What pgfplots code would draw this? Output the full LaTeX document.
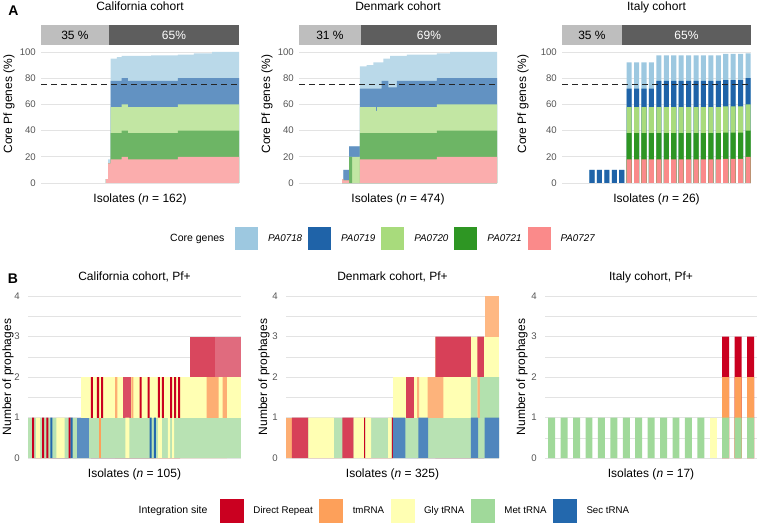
\documentclass[border=0pt]{standalone}
\usepackage{pgfplots}
\pgfplotsset{compat=1.18}
\usepackage{pgfplotstable}
\usepackage{fontspec}
\setmainfont{Liberation Sans}
\definecolor{cLB}{HTML}{9DC8E0}
\definecolor{cDB}{HTML}{1F63A8}
\definecolor{cLG}{HTML}{A8DB7C}
\definecolor{cDG}{HTML}{2E9623}
\definecolor{cPK}{HTML}{FA8A8A}
\definecolor{cDR}{HTML}{CA0020}
\definecolor{cTM}{HTML}{FDA05A}
\definecolor{cGL}{HTML}{FFFFB3}
\definecolor{cMT}{HTML}{A0D99A}
\definecolor{cSC}{HTML}{2368AD}
\definecolor{gridc}{HTML}{E3E3E3}
\definecolor{tickc}{HTML}{555555}
\definecolor{hdrL}{HTML}{BEBEBE}
\definecolor{hdrD}{HTML}{5E5E5E}

% cumulative tops: c27 (PA0727), c21, c20, c19, c18 ; isolates before the first row have no core genes
\pgfplotstableread{
x c27 c21 c20 c19 c18
53.5 3 3 3 3 3
55.5 15 15 15 15 18
57.5 18 38 58 78 95
62.5 18 38 58 78 96
66.5 20 40 60 80 97
71.5 18 38 58 78 97
90.5 18 38 58 78 97.5
112.5 20 40 60 80 98
125.5 20 40 60 80 99
140.5 20 40 60 80 100
162.5 20 40 60 80 100
}\calA

\pgfplotstableread{
x c27 c21 c20 c19 c18
103.5 3 3 3 3 3
106.5 2 2 2 10 10
120.5 0 20 20 28 28
127.5 0 0 20 28 28
146.5 18 38 58 72 89
162.5 18 38 58 72 90
178.5 18 38 58 72 92
184.5 18 38 55 72 92
187.5 18 38 58 72 92
198.5 18 38 58 78 92
202.5 18 38 58 78 95
214.5 18 38 58 73 95
218.5 18 38 58 73 97
234.5 18 38 58 78 97
258.5 18 38 58 78 98
330.5 20 40 60 80 99
362.5 20 40 60 80 100
474.5 20 40 60 80 100
}\denA

\pgfplotstableread{
x c27 c21 c20 c19 c18
1 nan nan nan nan nan
2 nan nan nan nan nan
3 nan nan nan nan nan
4 nan nan nan nan nan
5 nan nan nan 10 10
6 nan nan nan 10 10
7 nan nan nan 10 10
8 nan nan nan 10 10
9 nan nan nan 10 10
10 18 38 58 72 92
11 18 38 58 72 92
12 18 38 58 72 92
13 18 38 58 72 92
14 18 38 58 78 97.5
15 18 38 58 78 97.5
16 18 38 58 78 97.5
17 18 38 58 78 97.5
18 18 38 58 78 97.5
19 18 38 58 78 97.5
20 18 38 58 78 97.5
21 18 38 58 78 97.5
22 18 38 58 78 97.5
23 18.5 38.5 58.5 78.5 98.5
24 18.5 38.5 58.5 78.5 98.5
25 18.5 38.5 58.5 78.5 98.5
26 20 40 60 80 99
}\itA

\pgfplotsset{
  basest/.style={scale only axis, anchor=south west, clip=false,
    axis line style={draw=none}, major tick length=0pt, minor tick length=0pt,
    xtick=\empty, ymajorgrids, major grid style={gridc, line width=0.9pt},
    tick label style={font=\fontsize{9.6}{11}\selectfont, text=tickc},
    unbounded coords=discard,
    /pgf/number format/assume math mode=true},
  pA/.style={basest, height=131pt, ymin=0, ymax=100, ytick={0,20,40,60,80,100},
    yticklabel style={inner sep=0pt, xshift=-5pt}},
  pB/.style={basest, height=162pt, ymin=0, ymax=4, ytick={0,1,2,3,4},
    minor ytick={0.5,1.5,2.5,3.5}, yminorgrids, minor grid style={gridc, line width=0.5pt},
    yticklabel style={inner sep=0pt, xshift=-8pt}},
  ar/.style={draw=none, const plot, forget plot},
  iv/.style={ybar interval, draw=none, forget plot},
  dl/.style={draw=black!85, line width=1.1pt, dash pattern=on 6pt off 4pt, forget plot},
}
\newcommand{\tf}{\fontsize{12}{14}\selectfont}
\newcommand{\lf}{\fontsize{10.5}{12}\selectfont}

\begin{document}
\begin{tikzpicture}
\useasboundingbox (0pt,0pt) rectangle (758pt,523pt);

% ---------------- Panel A: California ----------------
\begin{axis}[pA, at={(41pt,340pt)}, width=198pt, xmin=0.5, xmax=162.5]
\addplot[ar, fill=cLB!70!white] table[x=x,y=c18]{\calA} \closedcycle;
\addplot[ar, fill=cDB!70!white] table[x=x,y=c19]{\calA} \closedcycle;
\addplot[ar, fill=cLG!70!white] table[x=x,y=c20]{\calA} \closedcycle;
\addplot[ar, fill=cDG!70!white] table[x=x,y=c21]{\calA} \closedcycle;
\addplot[ar, fill=cPK!70!white] table[x=x,y=c27]{\calA} \closedcycle;
\addplot[dl] coordinates {(0.5,75) (162.5,75)};
\fill[hdrL] (rel axis cs:0,1.053) rectangle (rel axis cs:0.343,1.206);
\fill[hdrD] (rel axis cs:0.343,1.053) rectangle (rel axis cs:1,1.206);
\node[font=\tf] at (rel axis cs:0.1715,1.13) {35 \%};
\node[font=\tf, text=white] at (rel axis cs:0.6715,1.13) {65\%};
\end{axis}

% ---------------- Panel A: Denmark ----------------
\begin{axis}[pA, at={(299pt,340pt)}, width=198pt, xmin=0.5, xmax=474.5,
  legend style={at={(-0.3535,-0.4237)}, anchor=west, draw=none, fill=none,
    inner sep=0pt, outer sep=0pt, legend columns=5,
    font=\fontsize{9.8}{11}\selectfont, nodes={inner sep=0pt}},
  legend image code/.code={\path (-6pt,0pt) (33pt,0pt); \fill[#1] (0pt,-11.5pt) rectangle (23pt,11.5pt);}]
\addplot[ar, fill=cLB!70!white] table[x=x,y=c18]{\denA} \closedcycle;
\addplot[ar, fill=cDB!70!white] table[x=x,y=c19]{\denA} \closedcycle;
\addplot[ar, fill=cLG!70!white] table[x=x,y=c20]{\denA} \closedcycle;
\addplot[ar, fill=cDG!70!white] table[x=x,y=c21]{\denA} \closedcycle;
\addplot[ar, fill=cPK!70!white] table[x=x,y=c27]{\denA} \closedcycle;
\addplot[dl] coordinates {(0.5,75) (474.5,75)};
\fill[hdrL] (rel axis cs:0,1.053) rectangle (rel axis cs:0.313,1.206);
\fill[hdrD] (rel axis cs:0.313,1.053) rectangle (rel axis cs:1,1.206);
\node[font=\tf] at (rel axis cs:0.1565,1.13) {31 \%};
\node[font=\tf, text=white] at (rel axis cs:0.6565,1.13) {69\%};
\addlegendimage{fill=cLB, draw=none}\addlegendentry{\textit{PA0718}}
\addlegendimage{fill=cDB, draw=none}\addlegendentry{\textit{PA0719}}
\addlegendimage{fill=cLG, draw=none}\addlegendentry{\textit{PA0720}}
\addlegendimage{fill=cDG, draw=none}\addlegendentry{\textit{PA0721}}
\addlegendimage{fill=cPK, draw=none}\addlegendentry{\textit{PA0727}}
\end{axis}

% ---------------- Panel A: Italy ----------------
\begin{axis}[pA, at={(562pt,340pt)}, width=189pt, xmin=0.96, xmax=26.4]
\addplot[ybar, bar shift=0pt, bar width=0.68, fill=cLB, draw=none, forget plot] table[x=x,y=c18]{\itA};
\addplot[ybar, bar shift=0pt, bar width=0.68, fill=cDB, draw=none, forget plot] table[x=x,y=c19]{\itA};
\addplot[ybar, bar shift=0pt, bar width=0.68, fill=cLG, draw=none, forget plot] table[x=x,y=c20]{\itA};
\addplot[ybar, bar shift=0pt, bar width=0.68, fill=cDG, draw=none, forget plot] table[x=x,y=c21]{\itA};
\addplot[ybar, bar shift=0pt, bar width=0.68, fill=cPK, draw=none, forget plot] table[x=x,y=c27]{\itA};
\addplot[dl] coordinates {(0.96,75) (26.4,75)};
\fill[hdrL] (rel axis cs:0,1.053) rectangle (rel axis cs:0.317,1.206);
\fill[hdrD] (rel axis cs:0.317,1.053) rectangle (rel axis cs:1,1.206);
\node[font=\tf] at (rel axis cs:0.1585,1.13) {35 \%};
\node[font=\tf, text=white] at (rel axis cs:0.6585,1.13) {65\%};
\end{axis}

% ---------------- Panel B: California ----------------
\begin{axis}[pB, at={(28pt,65pt)}, width=213pt, xmin=0.5, xmax=105.5]
% level 3
\addplot[iv, fill=cDR!72!white] coordinates {(80.5,3) (92.5,3)};
\addplot[iv, fill=cDR!58!white] coordinates {(92.5,3) (105.5,3)};
% level 2
\addplot[iv, fill=cGL] coordinates {(26.5,2) (105.5,2)};
\addplot[iv, fill=cTM!85!white] coordinates {(43.5,2) (44.5,0) (51.5,2) (52.5,0) (88.5,2) (94.5,0) (96.5,2) (98.5,0)};
\addplot[iv, fill=cDR] coordinates {(31.5,2) (32.5,0) (34.5,2) (35.5,0) (36.5,2) (37.5,0) (55.5,2) (56.5,0) (59.5,2) (60.5,0) (64.5,2) (65.5,0) (66.5,2) (67.5,0) (70.5,2) (71.5,0) (72.5,2) (73.5,0) (74.5,2) (75.5,0)};
\addplot[iv, fill=cDR!70!white] coordinates {(47.5,2) (51.5,0)};
% level 1
\addplot[iv, fill=cMT!75!white] coordinates {(0.5,1) (105.5,1)};
\addplot[iv, fill=cGL] coordinates {(4.5,1) (6.5,0) (14.5,1) (18.5,0) (48.5,1) (50.5,0) (64.5,1) (66.5,0) (69.5,1) (70.5,0) (71.5,1) (72.5,0)};
\addplot[iv, fill=cDR] coordinates {(2.5,1) (3.5,0) (7.5,1) (8.5,0) (9.5,1) (10.5,0) (20.5,1) (21.5,0)};
\addplot[iv, fill=cSC] coordinates {(11.5,1) (12.5,0) (21.5,1) (22.5,0) (60.5,1) (61.5,0) (62.5,1) (63.5,0)};
\addplot[iv, fill=cSC!75!white] coordinates {(24.5,1) (30.5,0)};
\addplot[iv, fill=cTM] coordinates {(35.5,1) (36.5,0)};
\end{axis}

% ---------------- Panel B: Denmark ----------------
\begin{axis}[pB, at={(286pt,65pt)}, width=213pt, xmin=0.5, xmax=325.5,
  legend style={at={(-0.3404,-0.327)}, anchor=west, draw=none, fill=none,
    inner sep=0pt, outer sep=0pt, legend columns=5,
    font=\fontsize{9.7}{11}\selectfont, nodes={inner sep=0pt}},
  legend image code/.code={\path (-6.5pt,0pt) (33.5pt,0pt); \fill[#1] (0pt,-12pt) rectangle (24pt,12pt);}]
% level 4
\addplot[iv, fill=cTM!75!white] coordinates {(303.5,4) (325.5,4)};
% level 3
\addplot[iv, fill=cGL] coordinates {(228.5,3) (325.5,3)};
\addplot[iv, fill=cDR!75!white] coordinates {(228.5,3) (282.5,0) (292.5,3) (302.5,0)};
% level 2
\addplot[iv, fill=cGL] coordinates {(163.5,2) (325.5,2)};
\addplot[iv, fill=cDR!75!white] coordinates {(183.5,2) (196.5,0)};
\addplot[iv, fill=cTM!80!white] coordinates {(200.5,2) (203.5,0) (216.5,2) (240.5,0) (292.5,2) (296.5,0)};
\addplot[iv, fill=cMT!80!white] coordinates {(282.5,2) (292.5,0) (296.5,2) (325.5,0)};
% level 1
\addplot[iv, fill=cMT!75!white] coordinates {(0.5,1) (325.5,1)};
\addplot[iv, fill=cTM!85!white] coordinates {(0.5,1) (9.5,0)};
\addplot[iv, fill=cDR!75!white] coordinates {(9.5,1) (34.5,0) (86.5,1) (103.5,0)};
\addplot[iv, fill=cDR] coordinates {(119.5,1) (121.5,0) (161.5,1) (163.5,0)};
\addplot[iv, fill=cGL] coordinates {(34.5,1) (73.5,0) (103.5,1) (119.5,0) (121.5,1) (130.5,0) (156.5,1) (161.5,0)};
\addplot[iv, fill=cSC!80!white] coordinates {(163.5,1) (182.5,0) (202.5,1) (217.5,0) (282.5,1) (293.5,0) (303.5,1) (325.5,0)};
\addlegendimage{fill=cDR, draw=none}\addlegendentry{Direct Repeat}
\addlegendimage{fill=cTM, draw=none}\addlegendentry{tmRNA}
\addlegendimage{fill=cGL, draw=none}\addlegendentry{Gly tRNA}
\addlegendimage{fill=cMT, draw=none}\addlegendentry{Met tRNA}
\addlegendimage{fill=cSC, draw=none}\addlegendentry{Sec tRNA}
\end{axis}

% ---------------- Panel B: Italy ----------------
\begin{axis}[pB, at={(545pt,65pt)}, width=212pt, xmin=0.46, xmax=17.52]
\addplot[ybar, bar shift=0pt, bar width=0.56, fill=cDR, draw=none, forget plot] coordinates {(15,3) (16,3) (17,3)};
\addplot[ybar, bar shift=0pt, bar width=0.56, fill=cTM, draw=none, forget plot] coordinates {(15,2) (16,2) (17,2)};
\addplot[ybar, bar shift=0pt, bar width=0.56, fill=cMT, draw=none, forget plot] coordinates {(1,1) (2,1) (3,1) (4,1) (5,1) (6,1) (7,1) (8,1) (9,1) (10,1) (11,1) (12,1) (13,1) (15,1) (16,1) (17,1)};
\addplot[ybar, bar shift=0pt, bar width=0.56, fill=cGL, draw=none, forget plot] coordinates {(14,1)};
\end{axis}

% ---------------- texts ----------------
\node[font=\bfseries\fontsize{14}{16}\selectfont] at (13.5pt,512pt) {A};
\node[font=\bfseries\fontsize{14}{16}\selectfont] at (13pt,244pt) {B};

\node[font=\tf, anchor=base] at (140pt,512pt) {California cohort};
\node[font=\tf, anchor=base] at (398pt,512pt) {Denmark cohort};
\node[font=\tf, anchor=base] at (656.5pt,512pt) {Italy cohort};

\node[font=\tf, anchor=base] at (140pt,320.5pt) {Isolates (\textit{n} = 162)};
\node[font=\tf, anchor=base] at (398pt,320.5pt) {Isolates (\textit{n} = 474)};
\node[font=\tf, anchor=base] at (656.5pt,320.5pt) {Isolates (\textit{n} = 26)};

\node[font=\tf, rotate=90] at (9pt,419pt) {Core Pf genes (\%)};
\node[font=\tf, rotate=90] at (267pt,419pt) {Core Pf genes (\%)};
\node[font=\tf, rotate=90] at (523pt,419pt) {Core Pf genes (\%)};

\node[font=\lf, anchor=mid east] at (228pt,284.5pt) {Core genes};

\node[font=\tf, anchor=base] at (134.5pt,243pt) {California cohort, Pf+};
\node[font=\tf, anchor=base] at (392.5pt,243pt) {Denmark cohort, Pf+};
\node[font=\tf, anchor=base] at (651pt,243pt) {Italy cohort, Pf+};

\node[font=\tf, anchor=base] at (134.5pt,46pt) {Isolates (\textit{n} = 105)};
\node[font=\tf, anchor=base] at (392.5pt,46pt) {Isolates (\textit{n} = 325)};
\node[font=\tf, anchor=base] at (651pt,46pt) {Isolates (\textit{n} = 17)};

\node[font=\tf, rotate=90] at (8pt,146pt) {Number of prophages};
\node[font=\tf, rotate=90] at (264pt,146pt) {Number of prophages};
\node[font=\tf, rotate=90] at (522pt,146pt) {Number of prophages};

\node[font=\lf, anchor=mid east] at (211pt,12pt) {Integration site};
\end{tikzpicture}
\end{document}
